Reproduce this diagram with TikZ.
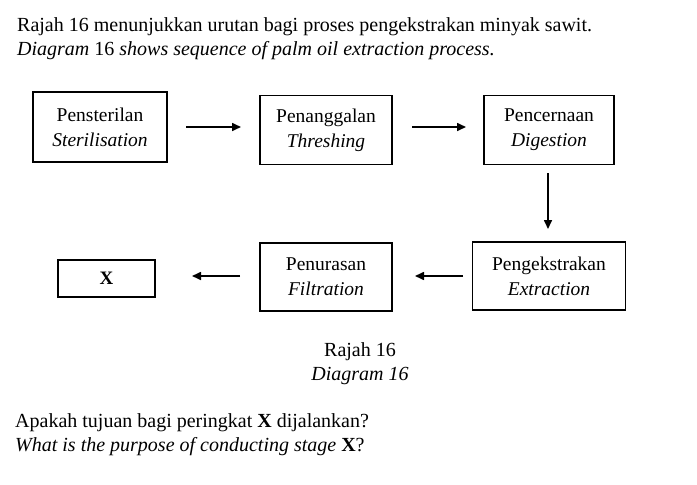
\documentclass[tikz,border=0pt]{standalone}
\usepackage{fontspec}
\setmainfont{Liberation Serif}
\usetikzlibrary{arrows.meta}
\begin{document}
\begin{tikzpicture}[x=1pt,y=-1pt,
  box/.style={draw, line width=1.4pt, fill=white, inner sep=0pt, align=center, font=\fontsize{19.5}{25}\selectfont},
  arr/.style={line width=1.6pt, -{Triangle[length=9pt,width=8pt]}},
  txt/.style={anchor=base west, inner sep=0pt, font=\fontsize{20}{24}\selectfont}]
\useasboundingbox (0,0) rectangle (697,485);
\node[txt] (h1) at (17,31) {Rajah 16 menunjukkan urutan bagi proses pengekstrakan minyak sawit.};
\node[txt] (h2) at (17,55) {\itshape Diagram \upshape 16 \itshape shows sequence of palm oil extraction process.};

\node[box, minimum width=134pt, minimum height=70pt] (s) at (100,127) {Pensterilan\\ \textit{Sterilisation}};
\node[box, minimum width=132pt, minimum height=69pt] (t) at (326,130) {Penanggalan\\ \textit{Threshing}};
\node[box, minimum width=130pt, minimum height=69pt] (d) at (549,130) {Pencernaan\\ \textit{Digestion}};
\node[box, minimum width=153pt, minimum height=68pt] (e) at (549,276) {Pengekstrakan\\ \textit{Extraction}};
\node[box, minimum width=132pt, minimum height=68pt] (f) at (326,277) {Penurasan\\ \textit{Filtration}};
\node[box, minimum width=97pt, minimum height=37pt, font=\fontsize{19}{22}\selectfont\bfseries] (x) at (106.5,278.5) {X};

\coordinate (a1s) at (186,127); \coordinate (a1e) at (241,127);
\draw[arr] (a1s) -- (a1e);
\coordinate (a2s) at (412,127); \coordinate (a2e) at (466,127);
\draw[arr] (a2s) -- (a2e);
\coordinate (a3s) at (548,173); \coordinate (a3e) at (548,229);
\draw[arr] (a3s) -- (a3e);
\coordinate (a4s) at (463,276); \coordinate (a4e) at (415,276);
\draw[arr] (a4s) -- (a4e);
\coordinate (a5s) at (240,276); \coordinate (a5e) at (192,276);
\draw[arr] (a5s) -- (a5e);

\node[anchor=base, inner sep=0pt, font=\fontsize{20}{24}\selectfont] (c1) at (360,356) {Rajah 16};
\node[anchor=base, inner sep=0pt, font=\fontsize{20}{24}\selectfont\itshape] (c2) at (360,380) {Diagram 16};

\node[txt] (q1) at (15,427) {Apakah tujuan bagi peringkat \textbf{X} dijalankan?};
\node[txt] (q2) at (15,451) {\itshape What is the purpose of conducting stage \upshape\textbf{X}?};
\end{tikzpicture}
\end{document}
